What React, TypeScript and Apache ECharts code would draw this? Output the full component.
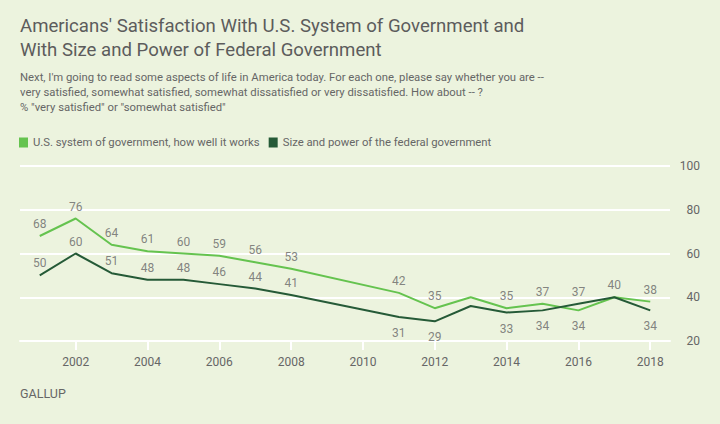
import React, { useEffect, useRef } from "react";
import * as echarts from "echarts";

const years = [2001, 2002, 2003, 2004, 2005, 2006, 2007, 2008, 2011, 2012, 2013, 2014, 2015, 2016, 2017, 2018];
const systemWorks = [68, 76, 64, 61, 60, 59, 56, 53, 42, 35, 40, 35, 37, 34, 40, 38];
const sizePower = [50, 60, 51, 48, 48, 46, 44, 41, 31, 29, 36, 33, 34, 37, 40, 34];
// label placement per point: "top", "bottom" or "" (hidden)
const systemLabelPos = ["top", "top", "top", "top", "top", "top", "top", "top", "top", "top", "", "top", "top", "bottom", "top", "top"];
const sizeLabelPos = ["top", "top", "top", "top", "top", "top", "top", "top", "bottom", "bottom", "", "bottom", "bottom", "top", "", "bottom"];
const xTicks = [2002, 2004, 2006, 2008, 2010, 2012, 2014, 2016, 2018];
const seriesNames = ["U.S. system of government, how well it works", "Size and power of the federal government"];

const BG = "#ECF3DE";
const LIGHT = "#65C34F";
const DARK = "#255A37";
const GREY = "#666666";
const FONT = "Roboto, sans-serif";

function linePoints(vals: number[]) {
  return vals.map((v, i) => [years[i], v]);
}

function labelPoints(vals: number[], pos: string[]) {
  const out: any[] = [];
  vals.forEach((v, i) => {
    if (!pos[i]) return;
    out.push({
      value: [years[i], v],
      label: { show: true, position: pos[i], distance: pos[i] === "top" ? 6 : 10 },
    });
  });
  return out;
}

export default function App() {
  const ref = useRef<HTMLDivElement>(null);
  useEffect(() => {
    const chart = echarts.init(ref.current!, null, { renderer: "svg" });
    const labelStyle = {
      show: true,
      color: GREY,
      fontSize: 12,
      fontFamily: FONT,
      formatter: (p: any) => String(p.value[1]),
    };
    const labelSeries = (vals: number[], pos: string[]) => ({
      type: "scatter",
      data: labelPoints(vals, pos),
      symbolSize: 0,
      itemStyle: { color: "rgba(0,0,0,0)" },
      silent: true,
      label: labelStyle,
      labelLayout: { hideOverlap: false },
      z: 5,
    });
    chart.setOption({
      animation: false,
      backgroundColor: BG,
      textStyle: { fontFamily: FONT },
      graphic: [
        {
          type: "text",
          left: 20,
          top: 14,
          style: {
            text: "Americans' Satisfaction With U.S. System of Government and\nWith Size and Power of Federal Government",
            fill: "#5c5c5c",
            font: `18.6px ${FONT}`,
            lineHeight: 24,
          },
        },
        {
          type: "text",
          left: 20,
          top: 70,
          style: {
            text:
              "Next, I'm going to read some aspects of life in America today. For each one, please say whether you are --\nvery satisfied, somewhat satisfied, somewhat dissatisfied or very dissatisfied. How about -- ?\n% \"very satisfied\" or \"somewhat satisfied\"",
            fill: GREY,
            font: `11.3px ${FONT}`,
            lineHeight: 15,
          },
        },
        {
          type: "text",
          left: 20,
          top: 387,
          style: { text: "GALLUP", fill: GREY, font: `12.5px ${FONT}` },
        },
      ],
      legend: {
        left: 14,
        top: 132,
        icon: "rect",
        itemWidth: 9,
        itemHeight: 10,
        itemGap: 9,
        textStyle: { color: GREY, fontSize: 11.3, fontFamily: FONT },
        data: [
          { name: seriesNames[0], itemStyle: { color: LIGHT, opacity: 1 } },
          { name: seriesNames[1], itemStyle: { color: DARK, opacity: 1 } },
        ],
      },
      grid: { left: 20, right: 50, top: 166, bottom: 83 },
      xAxis: {
        type: "value",
        min: 2000.45,
        max: 2018.55,
        axisLine: { show: true, lineStyle: { color: "#ffffff", width: 2 } },
        axisTick: { show: true, customValues: xTicks, length: 9, lineStyle: { color: "#ffffff", width: 2 } },
        axisLabel: {
          customValues: xTicks,
          color: GREY,
          fontSize: 12,
          fontFamily: FONT,
          margin: 15,
          formatter: (v: number) => String(v),
        },
        splitLine: { show: false },
      },
      yAxis: {
        type: "value",
        position: "right",
        min: 20,
        max: 100,
        interval: 20,
        axisLine: { show: false },
        axisTick: { show: false },
        axisLabel: { color: GREY, fontSize: 12, fontFamily: FONT, align: "right", margin: 30 },
        splitLine: { lineStyle: { color: "#ffffff", width: 2 } },
      },
      series: [
        {
          name: seriesNames[0],
          type: "line",
          data: linePoints(systemWorks),
          symbol: "none",
          itemStyle: { color: LIGHT },
          color: LIGHT,
          lineStyle: { color: LIGHT, width: 2 },
        },
        {
          name: seriesNames[1],
          type: "line",
          data: linePoints(sizePower),
          symbol: "none",
          itemStyle: { color: DARK },
          color: DARK,
          lineStyle: { color: DARK, width: 2 },
        },
        labelSeries(systemWorks, systemLabelPos),
        labelSeries(sizePower, sizeLabelPos),
      ],
    });
    return () => chart.dispose();
  }, []);
  return <div ref={ref} style={{ width: 720, height: 424, position: "fixed", left: 0, top: 0 }} />;
}
